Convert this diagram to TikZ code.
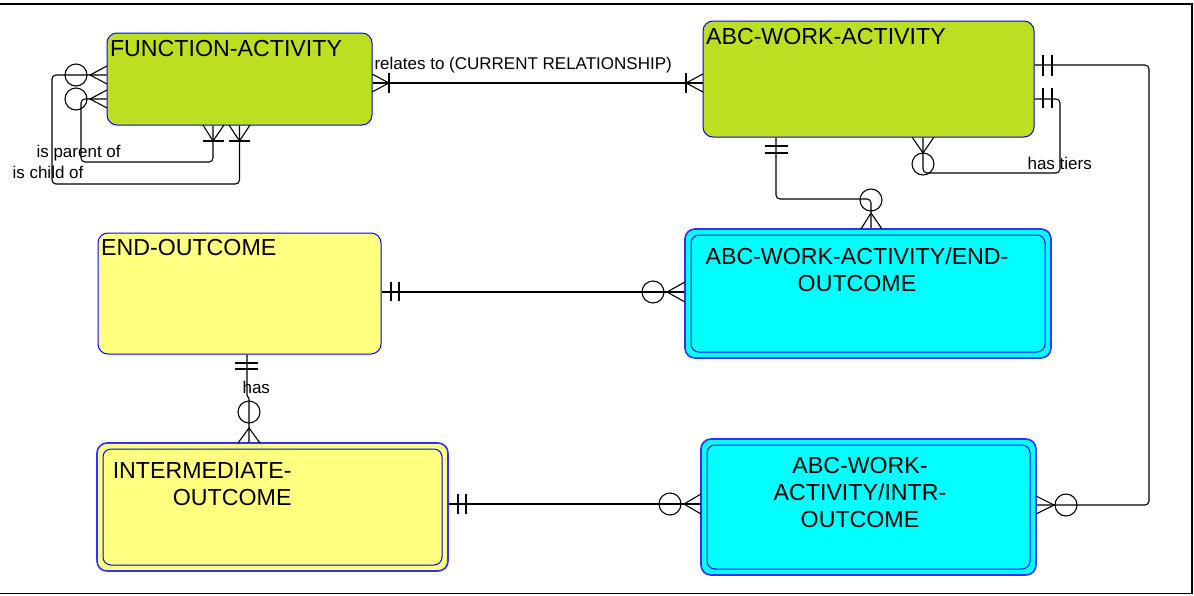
\documentclass[tikz,border=0pt]{standalone}
\usepackage{fontspec}
\setmainfont{Liberation Sans}
\usetikzlibrary{positioning}

\definecolor{actgreen}{RGB}{188,224,33}
\definecolor{outyellow}{RGB}{255,255,128}
\definecolor{linkcyan}{RGB}{0,255,255}
\definecolor{edgeblue}{RGB}{0,0,255}
\definecolor{rimblue}{RGB}{48,48,255}

\begin{document}
\begin{tikzpicture}[
    x = 1pt, y = -1pt, % one unit per pixel, y grows downwards
    line width = 1.1pt % connector lines
  ]

  \tikzstyle{entity}=[draw = edgeblue, line width = 1pt, rounded corners = 10pt,
  inner sep = 0pt]
  \tikzstyle{dependent}=[entity, draw = rimblue, line width = 1.6pt]
  \tikzstyle{inset}=[entity, rounded corners = 8pt, fill = none]
  \tikzstyle{enttitle}=[inner sep = 0pt, font = \fontsize{23.2}{27}\selectfont]
  \tikzstyle{rolename}=[inner sep = 0pt, anchor = base west,
  font = \fontsize{17}{20}\selectfont]
  \tikzstyle{link}=[draw = black, rounded corners = 4pt]

  \useasboundingbox (0,0) rectangle (1194,595);
  \draw[line width = 1.5pt] (0,4) -- (1192,4) -- (1192,593.5) -- (0,593.5);

  % entities
  \node[entity, fill = actgreen, minimum width = 265pt, minimum height = 92pt]
  (fa) at (239.5,79) {};
  \node[entity, fill = actgreen, minimum width = 331pt, minimum height = 116pt]
  (awa) at (868.5,79) {};
  \node[entity, fill = outyellow, minimum width = 283pt, minimum height = 121pt]
  (eo) at (239.5,293.5) {};
  \node[dependent, fill = linkcyan, minimum width = 366pt, minimum height = 129pt]
  (aeo) at (868,293.5) {};
  \node[inset, minimum width = 354pt, minimum height = 117pt] (aeoin) at (aeo) {};
  \node[dependent, fill = outyellow, minimum width = 351pt, minimum height = 128pt]
  (io) at (272.5,507) {};
  \node[inset, minimum width = 339pt, minimum height = 116pt] (ioin) at (io) {};
  \node[dependent, fill = linkcyan, minimum width = 335pt, minimum height = 136pt]
  (aio) at (868.5,507) {};
  \node[inset, minimum width = 323pt, minimum height = 124pt] (aioin) at (aio) {};

  \node[enttitle, below right = 7pt and 3pt of fa.north west] (fatitle)
  {FUNCTION-ACTIVITY};
  \node[enttitle, below right = 7pt and 3pt of awa.north west] (awatitle)
  {ABC-WORK-ACTIVITY};
  \node[enttitle, below right = 6pt and 3pt of eo.north west] (eotitle)
  {END-OUTCOME};
  \node[enttitle, align = center, below = 19pt of aeo.north, xshift = -11pt]
  (aeotitle) {ABC-WORK-ACTIVITY/END-\\OUTCOME};
  \node[enttitle, align = right, below right = 20pt and 16pt of io.north west]
  (iotitle) {INTERMEDIATE-\\OUTCOME};
  \node[enttitle, align = center, below = 19pt of aio.north, xshift = -8.5pt]
  (aiotitle) {ABC-WORK-\\ACTIVITY/INTR-\\OUTCOME};

  % relationships
  \draw[link] ([yshift = -4pt]fa.east) -- ([yshift = -4pt]awa.west);
  \node[rolename] (relates) at (374,69) {relates to (CURRENT RELATIONSHIP)};
  \draw (372,74) -- (389,83) -- (372,92); \draw (389,73) -- (389,93);
  \draw (703,74) -- (686,83) -- (703,92); \draw (686,73) -- (686,93);

  % function-activity hierarchy
  \draw[link] ([yshift = -20pt]fa.west) -- (81,99) -- (81,162) -- (213,162)
  -- ([xshift = -26.5pt]fa.south);
  \draw[link] ([yshift = 4pt]fa.west) -- (52,75) -- (52,184) -- (239.5,184)
  -- (fa.south);
  \node[rolename] (parent) at (36,157) {is parent of};
  \node[rolename] (child) at (12,178) {is child of};
  \draw (203,125) -- (213,141) -- (224,125); \draw (203,141) -- (224,141);
  \draw (229,125) -- (239.5,141) -- (250,125); \draw (229,141) -- (250,141);
  \draw (107,90) -- (90,99) -- (107,108); \draw (76,99) circle (11);
  \draw (107,66) -- (90,75) -- (107,84); \draw (76,75) circle (11);

  % work-activity tiers
  \draw[link] ([yshift = -20pt]awa.east) -- (1060,99) -- (1060,173) -- (923,173)
  -- ([xshift = 54.5pt]awa.south);
  \node[rolename] (tiers) at (1027,169) {has tiers};
  \draw (1043,88) -- (1043,108); \draw (1052,88) -- (1052,108);
  \draw (912,137) -- (923,153) -- (934,137); \draw (923,164) circle (11);

  % work-activity to intermediate link
  \draw[link] ([yshift = 14pt]awa.east) -- (1149,65) -- (1149,505)
  -- ([yshift = 2pt]aio.east);
  \draw (1043,55) -- (1043,76); \draw (1052,55) -- (1052,76);
  \draw (1036,496) -- (1054,505) -- (1036,514); \draw (1066,505) circle (11);

  % work-activity to end link
  \draw[link] ([xshift = -92.5pt]awa.south) -- (776,199) -- (871,199)
  -- ([xshift = 3pt]aeo.north);
  \draw (765,146) -- (788,146); \draw (765,153) -- (788,153);
  \draw (861,229) -- (871,213) -- (882,229); \draw (871,200) circle (11);

  % end-outcome links
  \draw[link] ([yshift = 1.5pt]eo.east) -- ([yshift = 1.5pt]aeo.west);
  \draw (391,282) -- (391,301); \draw (399,282) -- (399,301);
  \draw (685,282) -- (667,292) -- (685,302); \draw (653,292) circle (11);

  \draw[link, rounded corners = 1pt] ([xshift = 7.5pt]eo.south) -- (247,396)
  -- (249,398) -- ([xshift = -23.5pt]io.north);
  \node[rolename] (has) at (242,393) {has};
  \draw (235,363) -- (258,363); \draw (235,369) -- (258,369);
  \draw (238,443) -- (249,428) -- (260,443); \draw (249,412) circle (11);

  % intermediate-outcome link
  \draw[link] ([yshift = 3pt]io.east) -- ([yshift = 3pt]aio.west);
  \draw (458,494) -- (458,514); \draw (466,494) -- (466,514);
  \draw (701,494) -- (684,504) -- (701,514); \draw (670,504) circle (11);

\end{tikzpicture}
\end{document}
